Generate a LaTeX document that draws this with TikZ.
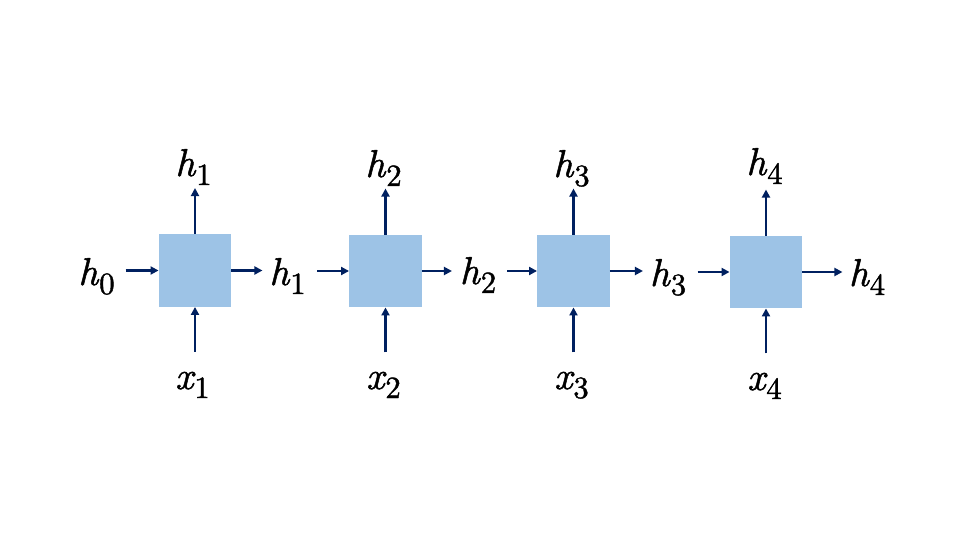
\documentclass[tikz,border=0pt]{standalone}
\usepackage{fontspec}
\usetikzlibrary{arrows.meta}
\newfontface\labit{lmroman10-italic.otf}[FakeBold=1.3]
\newfontface\labrm{lmroman10-regular.otf}[FakeBold=1.3]
\newcommand\lbl[2]{{\labit #1}\kern1bp\raisebox{-9bp}{\fontsize{31}{33}\labrm #2}}
\definecolor{cellblue}{HTML}{9DC3E6}
\definecolor{navy}{HTML}{002060}
\tikzset{
  cell/.style={fill=cellblue, draw=none, inner sep=0pt, minimum width=72.5bp, minimum height=72.5bp},
  lab/.style={anchor=base, inner sep=0pt, font=\fontsize{39}{42}\selectfont},
  arr/.style={draw=navy, line width=2.8bp, -{Triangle[length=8bp,width=8bp]}}
}
\begin{document}
\begin{tikzpicture}[x=1bp,y=-1bp]
\useasboundingbox (0,0) rectangle (960,540);
% cells
\node[cell] (b1) at (195,270.5) {};
\node[cell] (b2) at (385.5,271) {};
\node[cell] (b3) at (573.5,271) {};
\node[cell] (b4) at (766,272) {};
% top labels
\node[lab] (t1) at (193.5,176) {\lbl{h}{1}};
\node[lab] (t2) at (383.5,177) {\lbl{h}{2}};
\node[lab] (t3) at (571.5,177) {\lbl{h}{3}};
\node[lab] (t4) at (764.5,175) {\lbl{h}{4}};
% bottom labels
\node[lab] (x1) at (192.5,389) {\lbl{x}{1}};
\node[lab] (x2) at (383.5,389) {\lbl{x}{2}};
\node[lab] (x3) at (571.5,389) {\lbl{x}{3}};
\node[lab] (x4) at (764.5,390) {\lbl{x}{4}};
% side labels
\node[lab] (h0) at (96.5,285) {\lbl{h}{0}};
\node[lab] (h1) at (287.5,285) {\lbl{h}{1}};
\node[lab] (h2) at (478,284) {\lbl{h}{2}};
\node[lab] (h3) at (668,286) {\lbl{h}{3}};
\node[lab] (h4) at (867,286) {\lbl{h}{4}};
% horizontal arrows
\draw[arr] ([xshift=-33bp]b1.west) -- (b1.west);
\draw[arr] (b1.east) -- ([xshift=31bp]b1.east);
\draw[arr] ([xshift=-32bp]b2.west) -- (b2.west);
\draw[arr] (b2.east) -- ([xshift=30bp]b2.east);
\draw[arr] ([xshift=-30bp]b3.west) -- (b3.west);
\draw[arr] (b3.east) -- ([xshift=33bp]b3.east);
\draw[arr] ([xshift=-32bp]b4.west) -- (b4.west);
\draw[arr] (b4.east) -- ([xshift=40bp]b4.east);
% vertical arrows
\foreach \b in {b1,b2,b3,b4}{
  \draw[arr] (\b.north) -- ([yshift=46bp]\b.north);
  \draw[arr] ([yshift=-45bp]\b.south) -- (\b.south);
}
\end{tikzpicture}
\end{document}
